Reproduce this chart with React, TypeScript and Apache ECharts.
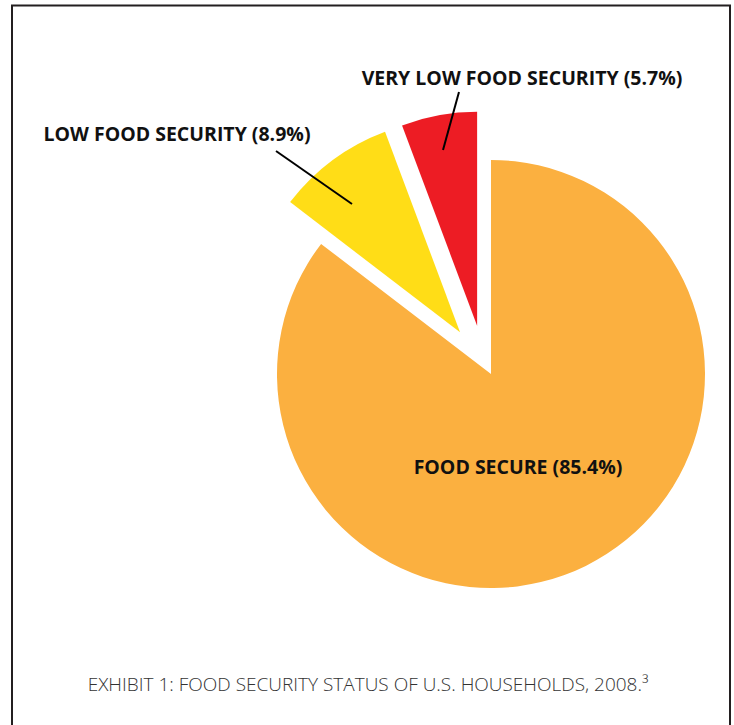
import React, { useEffect, useRef } from "react";
import * as echarts from "echarts";

const categories = ["FOOD SECURE", "LOW FOOD SECURITY", "VERY LOW FOOD SECURITY"];
const values = [85.4, 8.9, 5.7];
const exploded = [false, true, true];
const colors = ["#FBB040", "#FFDD17", "#ED1C24"];
const caption = "EXHIBIT 1: FOOD SECURITY STATUS OF U.S. HOUSEHOLDS, 2008.³";

// label placement (pixels)
const labelPos = [
  { x: 518, y: 466, line: null as null | number[][] },
  { x: 177, y: 133, line: [[276, 151], [352, 204]] },
  { x: 522, y: 77, line: [[459, 92], [443, 150]] },
];

const FONT = "'Open Sans', 'Noto Sans', sans-serif";
const LABEL_SIZE = 19.5;

const labelText = (i: number) => `${categories[i]} (${values[i]}%)`;

export default function App() {
  const ref = useRef<HTMLDivElement>(null);
  useEffect(() => {
    if (!ref.current) return;
    const chart = echarts.init(ref.current, null, { renderer: "svg" });

    const outerLabels: any[] = [];
    categories.forEach((_, i) => {
      if (!exploded[i]) return;
      const lp = labelPos[i];
      outerLabels.push({
        type: "text",
        x: lp.x,
        y: lp.y,
        silent: true,
        style: {
          text: labelText(i),
          fontFamily: FONT,
          fontWeight: "bold",
          fontSize: LABEL_SIZE,
          fill: "#111111",
          align: "center",
          verticalAlign: "middle",
        },
      });
      if (lp.line) {
        outerLabels.push({
          type: "line",
          silent: true,
          shape: { x1: lp.line[0][0], y1: lp.line[0][1], x2: lp.line[1][0], y2: lp.line[1][1] },
          style: { stroke: "#000000", lineWidth: 2 },
          z: 10,
        });
      }
    });

    const lastIdx = categories.length - 1;
    const common = {
      type: "pie",
      radius: [0, 214],
      startAngle: 90,
      clockwise: true,
      selectedMode: "multiple",
      silent: true,
      emphasis: { disabled: true },
      avoidLabelOverlap: false,
      labelLine: { show: false },
    };

    chart.setOption({
      animation: false,
      backgroundColor: "#ffffff",
      title: {
        text: caption,
        left: 363,
        top: 669,
        textAlign: "center",
        textStyle: {
          fontFamily: FONT,
          fontWeight: 300,
          fontSize: 19,
          color: "#333333",
        },
      },
      graphic: [
        {
          type: "rect",
          shape: { x: 12, y: 5.5, width: 718, height: 760 },
          style: { fill: "none", stroke: "#231F20", lineWidth: 2 },
          silent: true,
        },
        ...outerLabels,
      ],
      series: [
        {
          ...common,
          center: [491, 374],
          selectedOffset: 52,
          label: {
            show: true,
            position: "inside",
            formatter: (p: any) => `${p.name} (${p.value}%)`,
            fontFamily: FONT,
            fontWeight: "bold",
            fontSize: LABEL_SIZE,
            color: "#111111",
          },
          labelLayout: (params: any) => {
            const lp = labelPos[params.dataIndex];
            return { x: lp.x, y: lp.y, align: "center", verticalAlign: "middle" };
          },
          data: categories.map((name, i) => ({
            name,
            value: values[i],
            selected: exploded[i],
            itemStyle: { color: i === lastIdx ? "rgba(0,0,0,0)" : colors[i] },
            label: { show: !exploded[i] },
          })),
        },
        {
          ...common,
          center: [486, 375],
          selectedOffset: 50,
          label: { show: false },
          data: categories.map((name, i) => ({
            name,
            value: values[i],
            selected: exploded[i],
            itemStyle: { color: i === lastIdx ? colors[i] : "rgba(0,0,0,0)" },
          })),
        },
      ],
    });
    return () => chart.dispose();
  }, []);
  return (
    <div
      ref={ref}
      style={{ position: "absolute", left: 0, top: 0, width: 734, height: 725 }}
    />
  );
}
